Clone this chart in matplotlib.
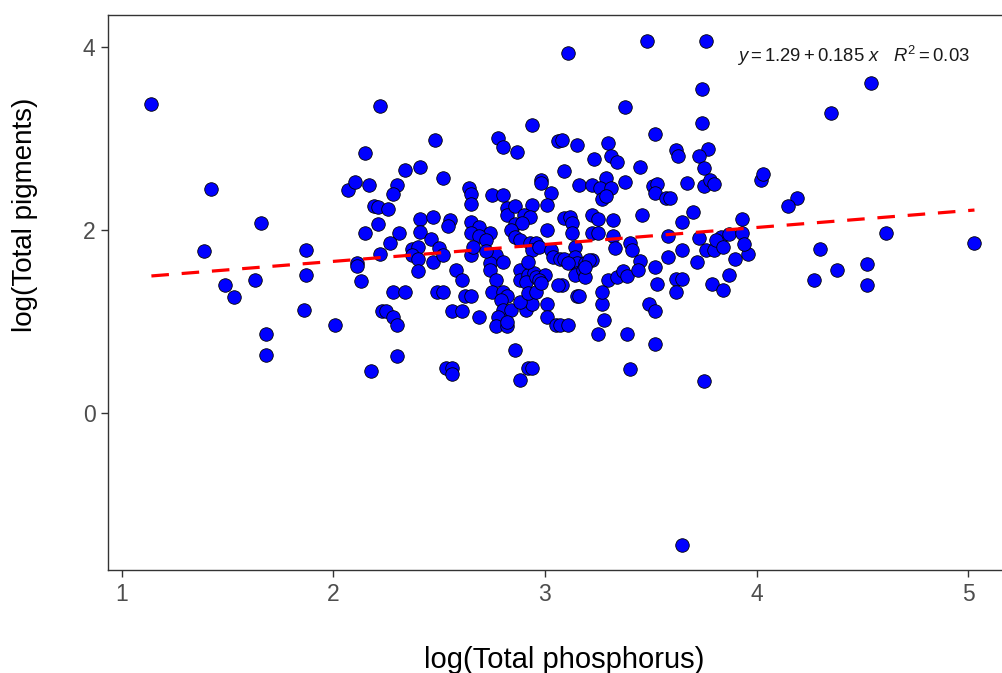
import matplotlib
matplotlib.use("Agg")
import matplotlib.pyplot as plt
import numpy as np

plt.rcParams['font.family'] = ['Liberation Sans', 'DejaVu Sans']
plt.rcParams['mathtext.fontset'] = 'custom'
plt.rcParams['mathtext.rm'] = 'Liberation Sans'
plt.rcParams['mathtext.it'] = 'Liberation Sans:italic'

# log(Total phosphorus), log(Total pigments)
log_tp = [
    1.14, 1.39, 1.42, 1.49, 1.53, 1.63, 1.66, 1.68, 1.68, 1.87, 1.87, 1.86, 2.01, 2.22, 2.15,
    2.34, 2.41, 2.48, 2.07, 2.10, 2.17, 2.30, 2.28, 2.19, 2.21, 2.26, 2.21, 2.15, 2.41, 2.47,
    2.31, 2.27, 2.41, 2.46, 2.37, 2.40, 2.37, 2.40, 2.22, 2.11, 2.11, 2.40, 2.47, 2.13, 2.28,
    2.34, 2.49, 2.23, 2.25, 2.28, 2.30, 2.30, 2.18, 2.52, 2.55, 2.54, 2.78, 2.80, 2.87, 2.94,
    2.64, 2.65, 2.65, 2.75, 2.80, 2.98, 2.98, 3.03, 3.06, 2.82, 2.82, 2.86, 2.94, 3.01, 2.90,
    2.93, 2.86, 2.89, 2.65, 2.69, 2.65, 2.74, 2.84, 3.01, 3.74, 3.38, 3.74, 3.52, 3.08, 3.15,
    3.30, 3.31, 3.34, 3.23, 3.45, 3.62, 3.63, 3.77, 3.73, 3.75, 3.09, 3.16, 3.22, 3.29, 3.26,
    3.31, 3.27, 3.29, 3.38, 3.51, 3.53, 3.52, 3.57, 3.59, 3.67, 3.75, 3.78, 3.80, 4.02, 4.03,
    4.19, 4.15, 3.46, 3.70, 3.65, 3.93, 3.09, 3.12, 3.13, 3.22, 3.25, 3.32, 3.13, 3.22, 3.25,
    3.32, 3.58, 3.73, 3.83, 3.87, 3.93, 3.11, 3.48, 3.76, 2.69, 2.72, 2.50, 2.52, 2.65, 2.66,
    2.77, 2.74, 2.80, 2.86, 2.88, 2.93, 2.96, 2.94, 2.97, 3.03, 3.04, 3.07, 3.09, 3.14, 3.14,
    3.15, 3.19, 3.22, 3.11, 3.33, 3.40, 3.41, 3.45, 3.52, 3.58, 3.65, 3.72, 3.76, 3.80, 3.81,
    2.58, 2.61, 2.74, 2.77, 2.88, 2.88, 2.92, 2.95, 2.91, 2.96, 3.00, 2.97, 3.15, 3.14, 3.18,
    3.19, 3.08, 3.30, 3.34, 3.37, 3.39, 3.44, 3.53, 3.62, 3.65, 3.79, 2.52, 2.62, 2.65, 2.56,
    2.61, 2.69, 2.53, 2.56, 2.56, 2.72, 2.75, 2.80, 2.82, 2.79, 2.80, 2.84, 2.78, 2.77, 2.82,
    2.91, 2.94, 2.88, 2.92, 2.96, 2.92, 3.01, 3.01, 3.05, 2.86, 2.88, 2.92, 2.94, 3.06, 3.07,
    3.11, 3.25, 3.39, 3.28, 3.27, 3.27, 3.15, 3.16, 3.40, 3.52, 3.49, 3.52, 3.62, 3.84, 3.90,
    3.96, 3.94, 3.87, 3.84, 3.75, 3.65, 4.54, 4.35, 4.61, 5.03, 4.30, 4.38, 4.52, 4.52, 4.27,
    2.82, 2.98, 3.21, 3.19,
]
log_pig = [
    3.38, 1.77, 2.45, 1.40, 1.27, 1.46, 2.08, 0.87, 0.64, 1.78, 1.51, 1.13, 0.96, 3.36, 2.84,
    2.66, 2.69, 2.99, 2.44, 2.53, 2.49, 2.49, 2.40, 2.26, 2.25, 2.23, 2.07, 1.97, 2.12, 2.15,
    1.97, 1.86, 1.98, 1.90, 1.79, 1.82, 1.73, 1.69, 1.74, 1.64, 1.61, 1.56, 1.65, 1.45, 1.33,
    1.33, 1.33, 1.12, 1.12, 1.05, 0.96, 0.63, 0.46, 2.57, 2.11, 2.05, 3.01, 2.91, 2.85, 3.15,
    2.46, 2.40, 2.29, 2.39, 2.39, 2.55, 2.52, 2.41, 2.97, 2.24, 2.17, 2.27, 2.28, 2.28, 2.17,
    2.15, 2.07, 2.08, 2.09, 2.04, 1.97, 1.97, 2.00, 2.00, 3.54, 3.35, 3.17, 3.05, 2.98, 2.93,
    2.95, 2.81, 2.74, 2.78, 2.69, 2.88, 2.81, 2.89, 2.81, 2.68, 2.65, 2.49, 2.49, 2.57, 2.46,
    2.46, 2.34, 2.37, 2.53, 2.48, 2.51, 2.41, 2.35, 2.35, 2.52, 2.48, 2.55, 2.51, 2.55, 2.61,
    2.35, 2.26, 2.17, 2.20, 2.09, 2.12, 2.13, 2.15, 2.08, 2.17, 2.12, 2.11, 1.97, 1.97, 1.97,
    1.94, 1.94, 1.91, 1.93, 1.96, 1.97, 3.94, 4.07, 4.07, 1.94, 1.89, 1.81, 1.73, 1.73, 1.82,
    1.73, 1.64, 1.65, 1.93, 1.89, 1.86, 1.86, 1.78, 1.82, 1.78, 1.71, 1.69, 1.69, 1.82, 1.71,
    1.64, 1.64, 1.68, 1.64, 1.81, 1.86, 1.78, 1.66, 1.60, 1.71, 1.78, 1.65, 1.78, 1.78, 1.89,
    1.57, 1.46, 1.57, 1.46, 1.57, 1.46, 1.51, 1.53, 1.44, 1.49, 1.51, 1.46, 1.53, 1.51, 1.57,
    1.49, 1.40, 1.46, 1.49, 1.55, 1.50, 1.57, 1.41, 1.47, 1.47, 1.41, 1.33, 1.28, 1.28, 1.12,
    1.12, 1.05, 0.50, 0.50, 0.43, 1.77, 1.33, 1.33, 1.28, 1.24, 1.13, 1.13, 1.05, 0.95, 0.95,
    1.13, 1.20, 1.22, 1.32, 1.33, 1.65, 1.20, 1.05, 0.96, 0.69, 0.36, 0.50, 0.50, 1.40, 0.96,
    0.96, 0.87, 0.87, 1.02, 1.20, 1.33, 1.28, 1.28, 0.49, 0.76, 1.20, 1.12, 1.33, 1.82, 1.69,
    1.74, 1.85, 1.51, 1.35, 0.35, -1.44, 3.61, 3.28, 1.97, 1.86, 1.80, 1.57, 1.63, 1.40, 1.46,
    1.00, 1.42, 1.67, 1.60,
]

intercept = 1.29
slope = 0.185
r_squared = 0.03

fig = plt.figure(figsize=(10.03, 6.73), dpi=100)
ax = fig.add_axes([0.1077, 0.153, 0.905, 0.8247])

ax.scatter(log_tp, log_pig, s=95, color="#0000FF", edgecolor="black",
           linewidth=0.6, zorder=2)

xs = np.array([min(log_tp), max(log_tp)])
ax.plot(xs, intercept + slope * xs, color="red", linewidth=2.3,
        linestyle=(0, (5.5, 4)), zorder=3)

ax.text(5.01, 3.90,
        r"$y = 1.29 + 0.185\ x\ \ \ R^2 = 0.03$",
        ha="right", va="center", fontsize=13.3, color="#1a1a1a")

ax.set_xlim(0.935, 5.225)
ax.set_ylim(-1.71, 4.35)
ax.set_xticks([1, 2, 3, 4, 5])
ax.set_yticks([0, 2, 4])

for sp in ax.spines.values():
    sp.set_color("#333333")
    sp.set_linewidth(1.0)
ax.tick_params(colors="#333333", length=5, width=1.0, labelsize=16.5,
               labelcolor="#4D4D4D", pad=4)

ax.set_xlabel("log(Total phosphorus)", fontsize=21, va="center")
ax.xaxis.set_label_coords(0.503, -0.162)
ax.set_ylabel("log(Total pigments)", fontsize=20, va="center")
ax.yaxis.set_label_coords(-0.092, 0.64)

fig.savefig("out.png", dpi=100)
